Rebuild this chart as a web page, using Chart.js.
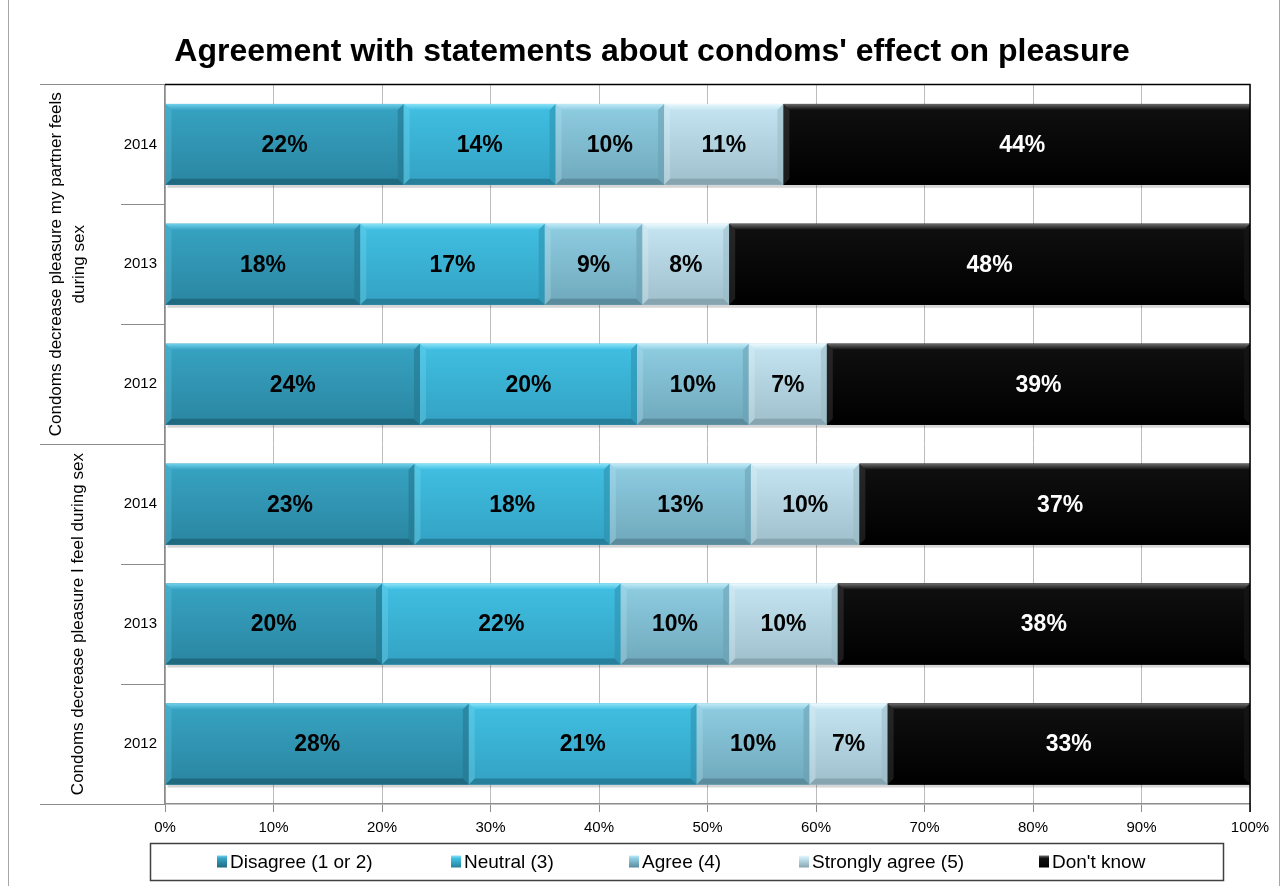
<!DOCTYPE html>
<html>
<head>
<meta charset="utf-8">
<title>Agreement with statements about condoms' effect on pleasure</title>
<script src="https://cdn.jsdelivr.net/npm/chart.js@4.4.1/dist/chart.umd.min.js"></script>
<style>
  html, body { margin: 0; padding: 0; background: #ffffff; }
  #wrap { width: 1284px; height: 886px; position: relative; }
</style>
</head>
<body>
<div id="wrap"><canvas id="chart" width="1284" height="886"></canvas></div>
<script>
// ---- data ----
const years = ['2014', '2013', '2012', '2014', '2013', '2012'];
const statements = [
  ['Condoms decrease pleasure my partner feels', 'during sex'],
  ['Condoms decrease pleasure I feel during sex']
];
const yearsPerStatement = 3;
const seriesNames = ['Disagree (1 or 2)', 'Neutral (3)', 'Agree (4)', 'Strongly agree (5)', "Don't know"];
const disagree      = [22, 18, 23.5, 23, 20, 28];
const neutral       = [14, 17, 20,   18, 22, 21];
const agree         = [10,  9, 10.3, 13, 10, 10.4];
const stronglyAgree = [11,  8,  7.2, 10, 10,  7.2];
const dontKnow      = [44, 48, 39,   37, 38, 33.4];
const xTickLabels = ['0%', '10%', '20%', '30%', '40%', '50%', '60%', '70%', '80%', '90%', '100%'];

// ---- styling ----
const FONT = "'Liberation Sans', Arial, sans-serif";
const palettes = [
  { flat: '#3095b3', hi: '#6fd0ea', top: '#37a3c3', bottom: '#2a86a1', lo: '#1f6a80', side: '#23748c' },
  { flat: '#3bb5d8', hi: '#8ae2f7', top: '#40bfe2', bottom: '#33a2c3', lo: '#27809b', side: '#2c8eab' },
  { flat: '#80bdd2', hi: '#c0eaf6', top: '#8fcde2', bottom: '#6fa8bb', lo: '#5a8c9d', side: '#6a9fb1' },
  { flat: '#b3d6e2', hi: '#eaf8fd', top: '#c4e5f1', bottom: '#9ebfcb', lo: '#86a5b0', side: '#9ab9c4' },
  { flat: '#050505', hi: '#6a6a6a', top: '#101010', bottom: '#000000', lo: '#000000', side: '#1a1a1a' }
];
const legendBox = { left: 150, top: 843, width: 1073, height: 37, itemX: [217, 451, 629, 799, 1039] };

const seriesData = [disagree, neutral, agree, stronglyAgree, dontKnow];

// Bars: shaded faces with bevelled edges, painted over the library's bar geometry.
const bevelBars = {
  id: 'bevelBars',
  afterDatasetsDraw(chart) {
    const { ctx, chartArea: a } = chart;
    ctx.save();
    ctx.beginPath();
    ctx.rect(a.left, a.top - 1, a.right - a.left, a.bottom - a.top + 6);
    ctx.clip();
    const boxes = [];
    chart.data.datasets.forEach((ds, di) => {
      chart.getDatasetMeta(di).data.forEach((bar, i) => {
        const p = bar.getProps(['x', 'y', 'base', 'height'], true);
        boxes.push({ di, i, l: Math.min(p.x, p.base), r: Math.max(p.x, p.base), t: p.y - p.height / 2, b: p.y + p.height / 2 });
      });
    });
    // soft shadow under every bar
    boxes.forEach(o => {
      ctx.fillStyle = 'rgba(0,0,0,0.16)';
      ctx.fillRect(o.l + 2, o.t + 3, o.r - o.l, o.b - o.t);
    });
    boxes.forEach(o => {
      const pal = palettes[o.di];
      const { l, r, t, b } = o;
      const bv = Math.min(6, (r - l) / 2);
      const g = ctx.createLinearGradient(0, t, 0, b);
      g.addColorStop(0, pal.top);
      g.addColorStop(1, pal.bottom);
      ctx.fillStyle = g;
      ctx.fillRect(l, t, r - l, b - t);
      // top bevel
      const gt = ctx.createLinearGradient(0, t, 0, t + bv);
      gt.addColorStop(0, pal.hi);
      gt.addColorStop(1, pal.top);
      ctx.beginPath();
      ctx.moveTo(l, t); ctx.lineTo(r, t); ctx.lineTo(r - bv, t + bv); ctx.lineTo(l + bv, t + bv); ctx.closePath();
      ctx.fillStyle = gt; ctx.fill();
      // right bevel
      ctx.beginPath();
      ctx.moveTo(r, t); ctx.lineTo(r, b); ctx.lineTo(r - bv, b - bv); ctx.lineTo(r - bv, t + bv); ctx.closePath();
      ctx.fillStyle = pal.side; ctx.globalAlpha = 0.55; ctx.fill(); ctx.globalAlpha = 1;
      // bottom bevel
      ctx.beginPath();
      ctx.moveTo(l, b); ctx.lineTo(r, b); ctx.lineTo(r - bv, b - bv); ctx.lineTo(l + bv, b - bv); ctx.closePath();
      ctx.fillStyle = pal.lo; ctx.fill();
      // left bevel
      ctx.beginPath();
      ctx.moveTo(l, t); ctx.lineTo(l + bv, t + bv); ctx.lineTo(l + bv, b - bv); ctx.lineTo(l, b); ctx.closePath();
      ctx.fillStyle = pal.hi; ctx.globalAlpha = 0.25; ctx.fill(); ctx.globalAlpha = 1;
    });
    ctx.restore();
  }
};

// Value labels centred on each segment.
const valueLabels = {
  id: 'valueLabels',
  afterDatasetsDraw(chart) {
    const { ctx } = chart;
    ctx.save();
    ctx.font = 'bold 23px ' + FONT;
    ctx.textAlign = 'center';
    ctx.textBaseline = 'middle';
    chart.data.datasets.forEach((ds, di) => {
      chart.getDatasetMeta(di).data.forEach((bar, i) => {
        const p = bar.getProps(['x', 'y', 'base'], true);
        ctx.fillStyle = di === 4 ? '#ffffff' : '#000000';
        ctx.fillText(Math.round(ds.data[i]) + '%', (p.x + p.base) / 2, p.y + 1);
      });
    });
    ctx.restore();
  }
};

// Frame lines, two-level category axis and legend.
const decorations = {
  id: 'decorations',
  afterDraw(chart) {
    const { ctx, chartArea: a, scales: { y } } = chart;
    ctx.save();
    // outer frame
    ctx.strokeStyle = '#a6a6a6';
    ctx.lineWidth = 1;
    ctx.beginPath();
    ctx.moveTo(8.5, 0); ctx.lineTo(8.5, chart.height);
    ctx.moveTo(chart.width - 4.5, 0); ctx.lineTo(chart.width - 4.5, chart.height);
    ctx.stroke();

    // plot border top & right
    ctx.strokeStyle = '#000000';
    ctx.lineWidth = 1.5;
    ctx.beginPath();
    ctx.moveTo(a.left, a.top); ctx.lineTo(a.right, a.top); ctx.lineTo(a.right, a.bottom + 8);
    ctx.stroke();

    // category axis: dividers between years and between statements
    const n = years.length;
    const edge = k => {
      if (k === 0) return a.top;
      if (k === n) return a.bottom;
      return (y.getPixelForValue(k - 1) + y.getPixelForValue(k)) / 2;
    };
    ctx.strokeStyle = '#8c8c8c';
    ctx.lineWidth = 1;
    for (let k = 0; k <= n; k++) {
      const yy = Math.round(edge(k)) + 0.5;
      const x0 = (k % yearsPerStatement === 0) ? 40 : 121;
      ctx.beginPath();
      ctx.moveTo(x0, yy); ctx.lineTo(a.left, yy);
      ctx.stroke();
    }
    // statement labels, rotated
    ctx.fillStyle = '#000000';
    ctx.font = '17px ' + FONT;
    ctx.textAlign = 'center';
    ctx.textBaseline = 'middle';
    statements.forEach((lines, s) => {
      const cy = (edge(s * yearsPerStatement) + edge((s + 1) * yearsPerStatement)) / 2;
      const lh = 23;
      const cx = 68;
      lines.forEach((txt, j) => {
        const lx = cx - (lines.length - 1) * lh / 2 + j * lh + (lines.length === 1 ? 10 : 0);
        ctx.save();
        ctx.translate(lx, cy);
        ctx.rotate(-Math.PI / 2);
        ctx.fillText(txt, 0, 0);
        ctx.restore();
      });
    });

    // legend
    const L = legendBox;
    ctx.strokeStyle = '#404040';
    ctx.lineWidth = 1.5;
    ctx.strokeRect(L.left + 0.5, L.top + 0.5, L.width, L.height);
    ctx.font = '19px ' + FONT;
    ctx.textAlign = 'left';
    ctx.textBaseline = 'middle';
    const cy = L.top + L.height / 2;
    seriesNames.forEach((name, i) => {
      const pal = palettes[i];
      const ix = L.itemX[i];
      const g = ctx.createLinearGradient(0, cy - 6, 0, cy + 6);
      g.addColorStop(0, pal.hi);
      g.addColorStop(0.25, pal.top);
      g.addColorStop(1, pal.lo);
      ctx.fillStyle = g;
      ctx.fillRect(ix, cy - 6, 10, 12);
      ctx.fillStyle = '#000000';
      ctx.fillText(name, ix + 13, cy + 1);
    });
    ctx.restore();
  }
};

const datasets = seriesData.map((vals, i) => ({
  label: seriesNames[i],
  data: vals,
  backgroundColor: palettes[i].flat,
  borderWidth: 0,
  categoryPercentage: 1,
  barPercentage: 0.675
}));

new Chart(document.getElementById('chart'), {
  type: 'bar',
  data: { labels: years, datasets },
  options: {
    indexAxis: 'y',
    responsive: false,
    animation: false,
    layout: { padding: { left: 54, right: 34, top: 0, bottom: 42 } },
    plugins: {
      legend: { display: false },
      tooltip: { enabled: false },
      title: {
        display: true,
        text: "Agreement with statements about condoms' effect on pleasure",
        color: '#000000',
        font: { family: FONT, size: 32, weight: 'bold' },
        padding: { top: 33, bottom: 13 }
      }
    },
    scales: {
      x: {
        stacked: true,
        min: 0,
        max: 100,
        ticks: {
          stepSize: 10,
          color: '#000000',
          font: { family: FONT, size: 15 },
          padding: 7,
          callback: (v, i) => xTickLabels[i]
        },
        grid: { color: '#bcbcbc', lineWidth: 1, tickLength: 8, tickColor: '#8c8c8c' },
        border: { color: '#8c8c8c', width: 1.5 },
        afterFit(s) { s.height = 40; }
      },
      y: {
        stacked: true,
        ticks: { color: '#000000', font: { family: FONT, size: 15 }, padding: 8 },
        grid: { display: false, drawTicks: false },
        border: { color: '#8c8c8c', width: 1.5 },
        afterFit(s) { s.width = 111; }
      }
    }
  },
  plugins: [bevelBars, valueLabels, decorations]
});
</script>
</body>
</html>
